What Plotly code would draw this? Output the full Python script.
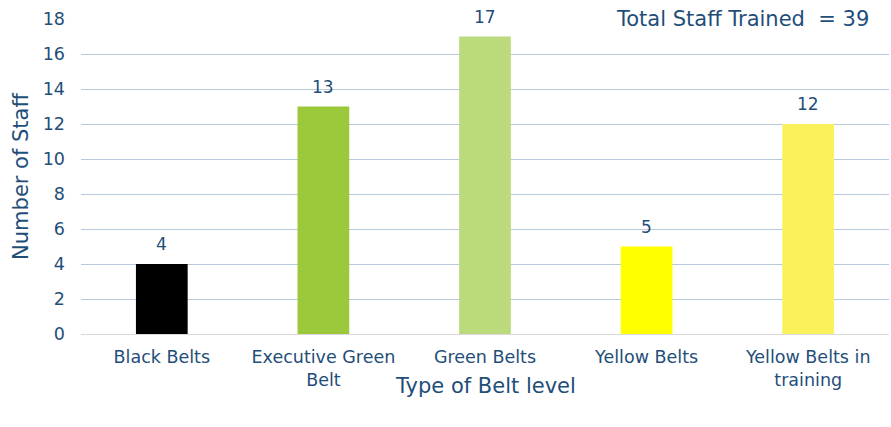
import plotly.graph_objects as go

categories = ["Black Belts", "Executive Green<br>Belt", "Green Belts", "Yellow Belts", "Yellow Belts in<br>training"]
values = [4, 13, 17, 5, 12]
colors = ["#000000", "#9BC93B", "#BBDA7C", "#FFFF00", "#FAF25A"]
y_ticks = list(range(0, 19, 2))
total_label = "Total Staff Trained  = 39"
x_title = "Type of Belt level"
y_title = "Number of Staff"

text_color = "#1F4E79"
font_family = "'DejaVu Sans', sans-serif"

fig = go.Figure(go.Bar(
    x=categories, y=values, marker=dict(color=colors, line=dict(width=0)),
    width=0.32, hoverinfo="skip",
))

for c, v in zip(categories, values):
    fig.add_annotation(x=c, y=v, text=str(v), showarrow=False, yanchor="bottom", yshift=8,
                       font=dict(size=17, color=text_color, family=font_family))

fig.update_layout(
    width=891, height=427,
    margin=dict(l=81, r=2, t=19, b=93),
    paper_bgcolor="white", plot_bgcolor="white",
    font=dict(family=font_family, color=text_color, size=17),
    showlegend=False,
    xaxis=dict(
        tickfont=dict(size=17.5), showgrid=False, showline=True, linecolor="#D9D9D9", linewidth=1,
        ticks="", ticklabelstandoff=7,
    ),
    yaxis=dict(
        title=dict(text=y_title, font=dict(size=21), standoff=8),
        range=[0, 18], tickvals=y_ticks, tickfont=dict(size=17.5),
        gridcolor="#B6C9DD", gridwidth=1, zeroline=False, showline=False, ticks="",
        ticklabelstandoff=15,
    ),
)
fig.add_annotation(
    text=x_title, xref="paper", yref="paper", x=0.5, y=0, yshift=-52,
    xanchor="center", yanchor="middle", showarrow=False,
    font=dict(size=21, color=text_color, family=font_family),
)
fig.add_annotation(
    text=total_label, xref="paper", yref="paper", x=0.978, y=1.0,
    xanchor="right", yanchor="middle", showarrow=False,
    font=dict(size=21, color=text_color, family=font_family),
    bgcolor="white",
)

fig.write_html("out.html")
